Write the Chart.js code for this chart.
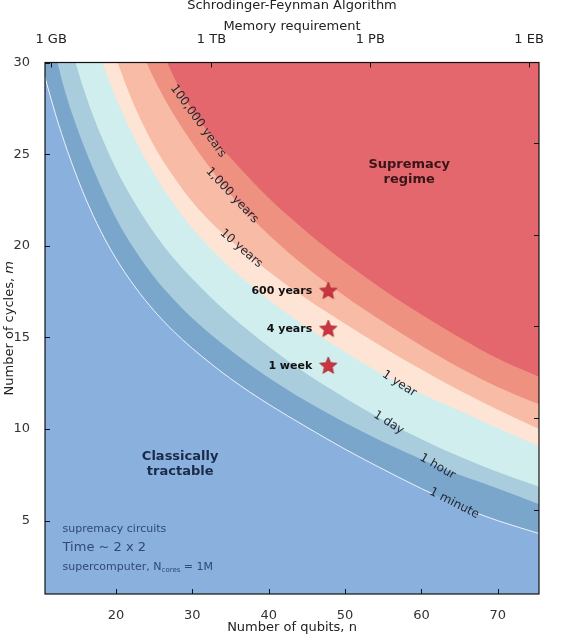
<!DOCTYPE html>
<html>
<head>
<meta charset="utf-8">
<script src="https://cdn.jsdelivr.net/npm/chart.js@4.4.0/dist/chart.umd.min.js"></script>
<style>
  html, body { margin: 0; padding: 0; background: #fff; }
</style>
</head>
<body>
<canvas id="chart" width="570" height="634"></canvas>
<script>
// axes
var xTicks = [20, 30, 40, 50, 60, 70];
var yTicks = [5, 10, 15, 20, 25, 30];
var memTicks = [11.5, 32.5, 53.3, 74.1];
var memLabels = ['1 GB', '1 TB', '1 PB', '1 EB'];
var rightTicks = [5.6, 10.6, 15.6, 20.6, 25.6];

// contour lines, [qubits n, cycles m]
var minute = [[10.7, 29.2], [11.5, 28.0], [12.5, 26.6], [14, 24.75], [16, 22.6], [18, 20.8], [20, 19.3], [22.5, 17.75],
  [25, 16.45], [27.5, 15.35], [30, 14.4], [35, 12.75], [40, 11.35], [45, 10.1], [50, 8.9], [55, 7.8], [60, 6.75],
  [61.4, 6.48], [67.2, 5.42], [70, 5.0], [75.4, 4.3]];
var hour = [[12.35, 30], [13, 28.9], [14.5, 26.9], [17, 24.2], [20, 21.5], [22.5, 19.75], [25, 18.3], [27.5, 17.1],
  [30, 16.05], [35, 14.3], [40, 12.8], [45, 11.5], [50, 10.35], [55, 9.3], [60, 8.35], [62.1, 7.95], [70, 6.75], [75.4, 5.9]];
var day = [[14.7, 30], [15.5, 28.9], [17, 27.1], [20, 24.2], [22.5, 22.3], [25, 20.7], [27.5, 19.35], [30, 18.2],
  [32.5, 17.15], [35, 16.2], [40, 14.5], [45, 13.0], [50, 11.7], [55, 10.5], [60, 9.45], [65, 8.5], [70, 7.65], [75.4, 6.85]];
var year = [[18.2, 30], [20, 28.05], [22.5, 25.8], [25, 23.9], [27.5, 22.3], [30, 20.95], [32.5, 19.8], [35, 18.8],
  [40, 17.05], [45, 15.55], [50, 14.2], [55, 12.95], [57.1, 12.47], [60, 11.93], [65, 11.0], [70, 10.05], [75.4, 9.06]];
var tenYears = [[20.2, 30], [21, 29.1], [22.5, 27.55], [25, 25.45], [27.5, 23.8], [30, 22.4], [32.5, 21.25], [35, 20.3],
  [40, 18.6], [45, 17.1], [50, 15.75], [55, 14.45], [60, 13.25], [65, 12.1], [70, 11.05], [75.4, 10.0]];
var kYears = [[24, 30], [25, 29.1], [27.5, 27.2], [30, 25.6], [32.5, 24.15], [35, 22.8], [40, 20.6], [45, 18.8],
  [50, 17.25], [55, 15.85], [60, 14.55], [65, 13.35], [70, 12.3], [75.4, 11.35]];
var hkYears = [[26.7, 30], [28, 28.85], [30, 27.4], [32.5, 26.0], [35, 24.8], [40, 22.6], [45, 20.75], [50, 19.1],
  [55, 17.6], [60, 16.25], [65, 15.0], [70, 13.85], [75.4, 12.85]];

// google circuits, n = 48
var starN = [47.8, 47.8, 47.8];
var starM = [17.52, 15.45, 13.44];
var starLabels = ['600 years', '4 years', '1 week'];

var F = 'DejaVu Sans';

function pts(a) {
  return a.map(function(p) { return {x: p[0], y: p[1]}; });
}

function band(curve, color, order) {
  return {
    data: pts(curve),
    order: order,
    fill: 'end',
    backgroundColor: color,
    borderColor: 'rgba(0,0,0,0)',
    borderWidth: 0,
    pointRadius: 0,
    cubicInterpolationMode: 'monotone'
  };
}

// white 1 minute line, broken where its label sits
var minuteLine = pts(minute);
minuteLine.splice(18, 0, {x: 64.3, y: null});

function makeStar(r) {
  var c = document.createElement('canvas');
  c.width = c.height = 2 * r + 2;
  var g = c.getContext('2d');
  g.beginPath();
  for (var i = 0; i < 10; i++) {
    var rad = i % 2 ? r * 0.45 : r;
    var a = -Math.PI / 2 + i * Math.PI / 5;
    var x = r + 1 + rad * Math.cos(a), y = r + 1 + rad * Math.sin(a);
    if (i) g.lineTo(x, y); else g.moveTo(x, y);
  }
  g.closePath();
  g.fillStyle = '#cc3440';
  g.fill();
  g.strokeStyle = '#9c1f2b';
  g.lineWidth = 0.8;
  g.stroke();
  return c;
}

var datasets = [
  {
    type: 'scatter',
    data: starN.map(function(n, i) { return {x: n, y: starM[i]}; }),
    order: 0,
    pointStyle: makeStar(9),
    pointRadius: 9
  },
  band(hkYears, '#e3676d', 1),
  band(kYears, '#ee9181', 2),
  band(tenYears, '#f8bca6', 3),
  band(year, '#fde4d4', 4),
  band(day, '#d0eeee', 5),
  band(hour, '#a9cddc', 6),
  {
    data: minuteLine,
    order: 6.5,
    fill: false,
    borderColor: 'rgba(255,255,255,0.85)',
    borderWidth: 1,
    pointRadius: 0,
    cubicInterpolationMode: 'monotone'
  },
  band(minute, '#7aa6cc', 7)
];

// labels sitting on the contour lines
var contourText = [
  {t: '100,000 years', n: 30.76, m: 26.8, a: 54},
  {t: '1,000 years', n: 35.2, m: 22.75, a: 47},
  {t: '10 years', n: 36.4, m: 19.85, a: 41},
  {t: '1 year', n: 57.1, m: 12.47, a: 33},
  {t: '1 day', n: 55.7, m: 10.35, a: 32},
  {t: '1 hour', n: 62.1, m: 7.95, a: 30},
  {t: '1 minute', n: 64.3, m: 5.95, a: 27}
];

var overlay = {
  id: 'overlay',
  beforeDraw: function(chart) {
    var ctx = chart.ctx, a = chart.chartArea;
    ctx.save();
    ctx.fillStyle = '#8ab0de';
    ctx.fillRect(a.left, a.top, a.right - a.left, a.bottom - a.top);
    ctx.restore();
  },
  afterDraw: function(chart) {
    var ctx = chart.ctx, a = chart.chartArea;
    var sx = chart.scales.x, sy = chart.scales.y;
    ctx.save();

    // contour labels
    ctx.font = '12px "' + F + '"';
    ctx.fillStyle = '#1f2430';
    ctx.textAlign = 'center';
    ctx.textBaseline = 'middle';
    contourText.forEach(function(c) {
      ctx.save();
      ctx.translate(sx.getPixelForValue(c.n), sy.getPixelForValue(c.m));
      ctx.rotate(c.a * Math.PI / 180);
      ctx.fillText(c.t, 0, 0);
      ctx.restore();
    });

    // star labels
    ctx.font = 'bold 11px "' + F + '"';
    ctx.fillStyle = '#111';
    ctx.textAlign = 'right';
    starLabels.forEach(function(t, i) {
      ctx.fillText(t, sx.getPixelForValue(starN[i]) - 16, sy.getPixelForValue(starM[i]));
    });

    // region names
    ctx.font = 'bold 13px "' + F + '"';
    ctx.textAlign = 'center';
    ctx.fillStyle = '#3a1518';
    ctx.fillText('Supremacy', sx.getPixelForValue(58.4), sy.getPixelForValue(24.45));
    ctx.fillText('regime', sx.getPixelForValue(58.4), sy.getPixelForValue(23.6));
    ctx.fillStyle = '#1a2a48';
    ctx.fillText('Classically', sx.getPixelForValue(28.4), sy.getPixelForValue(8.5));
    ctx.fillText('tractable', sx.getPixelForValue(28.4), sy.getPixelForValue(7.7));

    // legend note
    ctx.fillStyle = '#2f4a76';
    ctx.textAlign = 'left';
    var lx = sx.getPixelForValue(13.0);
    ctx.font = '11px "' + F + '"';
    ctx.fillText('supremacy circuits', lx, 529);
    ctx.font = '13px "' + F + '"';
    ctx.fillText('Time ~ 2 x 2', lx, 548);
    ctx.font = '11px "' + F + '"';
    var s1 = 'supercomputer, N';
    ctx.fillText(s1, lx, 567);
    var w1 = ctx.measureText(s1).width;
    ctx.font = '7px "' + F + '"';
    ctx.fillText('cores', lx + w1, 570);
    var w2 = ctx.measureText('cores').width;
    ctx.font = '11px "' + F + '"';
    ctx.fillText(' = 1M', lx + w1 + w2, 567);

    // frame and inward ticks
    ctx.strokeStyle = '#111';
    ctx.lineWidth = 1.2;
    ctx.strokeRect(a.left, a.top, a.right - a.left, a.bottom - a.top);
    ctx.lineWidth = 1;
    ctx.beginPath();
    xTicks.forEach(function(v) {
      var x = Math.round(sx.getPixelForValue(v)) + 0.5;
      ctx.moveTo(x, a.bottom); ctx.lineTo(x, a.bottom - 5);
    });
    memTicks.forEach(function(v) {
      var x = Math.round(sx.getPixelForValue(v)) + 0.5;
      ctx.moveTo(x, a.top); ctx.lineTo(x, a.top + 5);
    });
    yTicks.forEach(function(v) {
      var y = Math.round(sy.getPixelForValue(v)) + 0.5;
      ctx.moveTo(a.left, y); ctx.lineTo(a.left + 5, y);
    });
    rightTicks.forEach(function(v) {
      var y = Math.round(sy.getPixelForValue(v)) + 0.5;
      ctx.moveTo(a.right, y); ctx.lineTo(a.right - 5, y);
    });
    ctx.stroke();

    // titles
    ctx.fillStyle = '#222';
    ctx.font = '13px "' + F + '"';
    ctx.textAlign = 'center';
    ctx.textBaseline = 'alphabetic';
    var cx = (a.left + a.right) / 2;
    ctx.fillText('Schrodinger-Feynman Algorithm', cx, 9);
    ctx.fillText('Memory requirement', cx, 30);
    ctx.fillText('Number of qubits, n', cx, 631);

    ctx.translate(13, (a.top + a.bottom) / 2);
    ctx.rotate(-Math.PI / 2);
    var t1 = 'Number of cycles, ';
    ctx.textAlign = 'left';
    var tw = ctx.measureText(t1).width;
    ctx.font = 'italic 13px "' + F + '"';
    var tm = ctx.measureText('m').width;
    ctx.font = '13px "' + F + '"';
    ctx.fillText(t1, -(tw + tm) / 2, 0);
    ctx.font = 'italic 13px "' + F + '"';
    ctx.fillText('m', -(tw + tm) / 2 + tw, 0);
    ctx.restore();
  }
};

var tickFont = {family: F, size: 13};

var config = {
  type: 'line',
  data: {datasets: datasets},
  options: {
    responsive: false,
    animation: false,
    layout: {padding: {right: 31}},
    plugins: {
      legend: {display: false},
      tooltip: {enabled: false}
    },
    scales: {
      x: {
        type: 'linear', position: 'bottom', min: 10.7, max: 75.4,
        grid: {display: false}, border: {display: false},
        afterBuildTicks: function(s) { s.ticks = xTicks.map(function(v) { return {value: v}; }); },
        afterFit: function(s) { s.height = 40; },
        ticks: {font: tickFont, color: '#333', padding: 6, maxRotation: 0, autoSkip: false}
      },
      x2: {
        type: 'linear', position: 'top', min: 10.7, max: 75.4,
        grid: {display: false}, border: {display: false},
        afterBuildTicks: function(s) { s.ticks = memTicks.map(function(v) { return {value: v}; }); },
        afterFit: function(s) { s.height = 62.5; },
        ticks: {
          font: tickFont, color: '#222', padding: 7, maxRotation: 0, autoSkip: false,
          callback: function(v, i) { return memLabels[i]; }
        }
      },
      y: {
        type: 'linear', min: 1, max: 30,
        grid: {display: false}, border: {display: false},
        afterBuildTicks: function(s) { s.ticks = yTicks.map(function(v) { return {value: v}; }); },
        afterFit: function(s) { s.width = 45; },
        ticks: {font: tickFont, color: '#333', padding: 7, autoSkip: false}
      }
    }
  },
  plugins: [overlay]
};

var ctx = document.getElementById('chart').getContext('2d');
var chart = new Chart(ctx, config);
</script>
</body>
</html>
